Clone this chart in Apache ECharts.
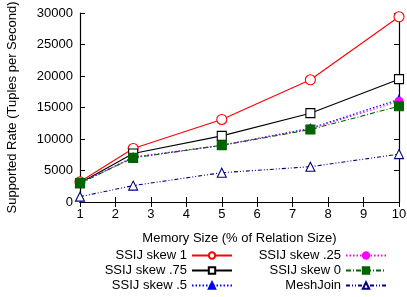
<!DOCTYPE html>
<html><head><meta charset="utf-8">
<script src="https://cdn.jsdelivr.net/npm/echarts@6/dist/echarts.min.js"></script>
<style>html,body{margin:0;padding:0;background:#fff}#c{width:407px;height:297px}</style>
</head><body><div id="c"></div>
<script>
const memorySizes = [1, 2.5, 5, 7.5, 10];
const skew1 = [3200, 8500, 13100, 19400, 29400];
const skew075 = [3000, 7700, 10500, 14100, 19500];
const skew05 = [3000, 7100, 9000, 11700, 16300];
const skew025 = [3000, 7100, 9000, 11600, 16000];
const skew0 = [3000, 7000, 9000, 11500, 15200];
const meshJoin = [850, 2600, 4650, 5600, 7600];
const xTicks = [1,2,3,4,5,6,7,8,9,10];
const yTicks = [0,5000,10000,15000,20000,25000,30000];

const font = 'Liberation Sans, Arial, sans-serif';
function pairs(ys){ return memorySizes.map((x,i)=>[x, ys[i]]); }
function mk(name, ys, color, type, symbol, filled, size){
  return {
    name, type:'line', data: pairs(ys), symbol, symbolSize: size,
    showAllSymbol:true,
    lineStyle:{color, width:1.1, type},
    itemStyle:{color: filled ? color : '#fff', borderColor: color, borderWidth:1.1},
    emphasis:{disabled:true}, animation:false, z: 3
  };
}
const chart = echarts.init(document.getElementById('c'));
const axisLine = {show:true, lineStyle:{color:'#000', width:1.2}};
const legText = {color:'#000', fontSize:13, fontFamily:font, lineHeight:13};
chart.setOption({
  animation:false,
  textStyle:{fontFamily:font},
  grid:{left:80, right:8, top:13, bottom:95, containLabel:false, outerBoundsMode:'none'},
  xAxis:[
    {type:'value', min:xTicks[0], max:xTicks[xTicks.length-1], interval:1, axisLine, axisTick:{inside:true, length:5, lineStyle:{color:'#000'}},
     axisLabel:{color:'#000', fontSize:13, fontFamily:font, margin:6}, splitLine:{show:false},
     name:'Memory Size (% of Relation Size)', nameLocation:'middle', nameGap:30,
     nameTextStyle:{color:'#000', fontSize:13, fontFamily:font}},
    {type:'value', position:'top', min:xTicks[0], max:xTicks[xTicks.length-1], interval:1, axisLine, axisTick:{inside:true, length:5, lineStyle:{color:'#000'}},
     axisLabel:{show:false}, splitLine:{show:false}}
  ],
  yAxis:[
    {type:'value', min:yTicks[0], max:yTicks[yTicks.length-1], interval:5000, axisLine, axisTick:{inside:true, length:5, lineStyle:{color:'#000'}},
     axisLabel:{color:'#000', fontSize:13, fontFamily:font, margin:7, formatter: v => String(v)}, splitLine:{show:false},
     name:'Supported Rate (Tuples per Second)', nameLocation:'middle', nameGap:61, nameRotate:90,
     nameTextStyle:{color:'#000', fontSize:13, fontFamily:font}},
    {type:'value', position:'right', min:yTicks[0], max:yTicks[yTicks.length-1], interval:5000, axisLine, axisTick:{inside:true, length:5, lineStyle:{color:'#000'}},
     axisLabel:{show:false}, splitLine:{show:false}}
  ],
  legend:[
    {orient:'vertical', align:'right', right:174, top:249, height:60, padding:0, itemWidth:40, itemHeight:8, itemGap:2,
     data:['SSIJ skew 1','SSIJ skew .75','SSIJ skew .5'], textStyle:legText},
    {orient:'vertical', align:'right', right:20, top:249, height:60, padding:0, itemWidth:40, itemHeight:8, itemGap:2,
     data:['SSIJ skew .25','SSIJ skew 0','MeshJoin'], textStyle:legText}
  ],
  series:[
    mk('SSIJ skew 1', skew1, '#ff0000', 'solid', 'circle', false, 10),
    mk('SSIJ skew .75', skew075, '#000000', 'solid', 'rect', false, 9),
    mk('SSIJ skew .5', skew05, '#0000ff', [1.5,2], 'triangle', true, 8),
    mk('SSIJ skew .25', skew025, '#ff00ff', [1.5,2], 'circle', true, 8),
    mk('SSIJ skew 0', skew0, '#006400', [5,2,1,2], 'rect', true, 9),
    mk('MeshJoin', meshJoin, '#000080', [4,2,1,2,1,2], 'triangle', false, 9)
  ]
});
</script></body></html>
